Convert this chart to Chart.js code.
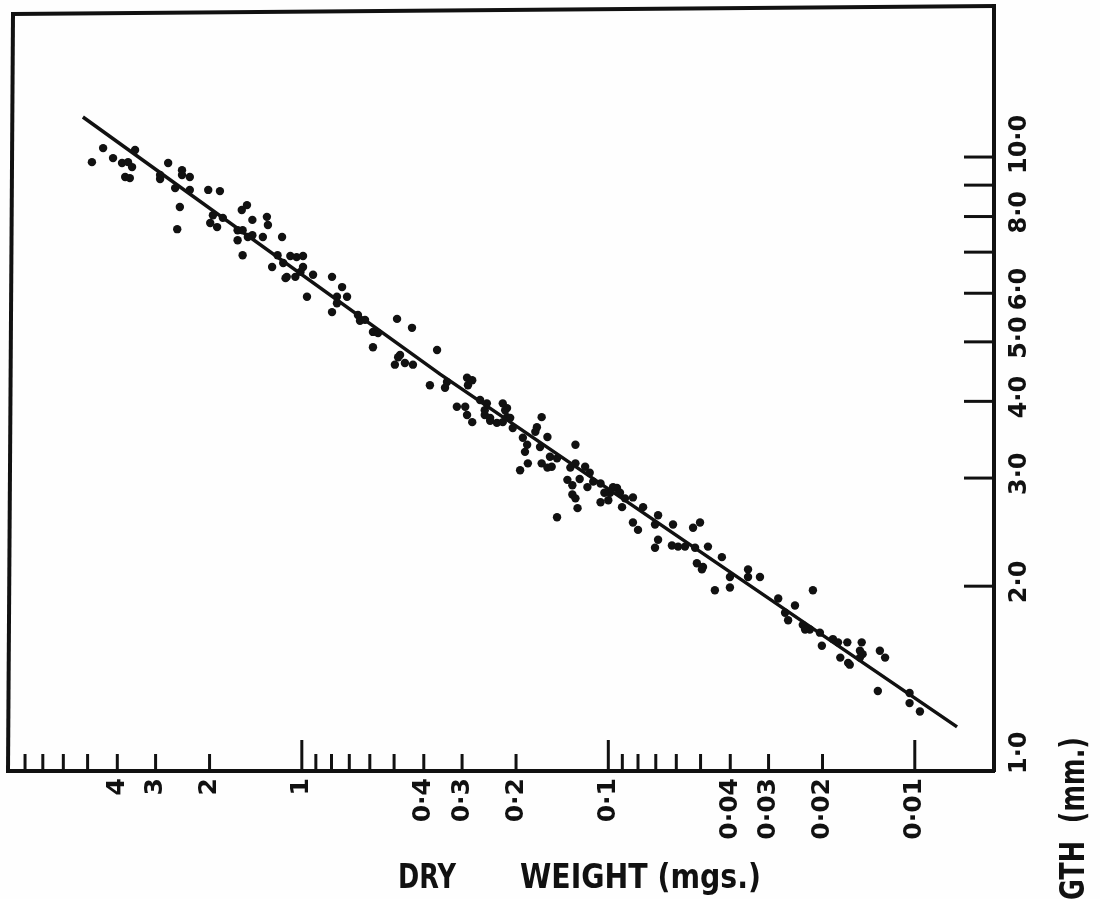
<!DOCTYPE html>
<html>
<head>
<meta charset="utf-8">
<title>Length against dry weight</title>
<script src="https://cdn.jsdelivr.net/npm/chart.js@4.4.1/dist/chart.umd.min.js"></script>
<style>
  html, body { margin: 0; padding: 0; background: #fff; }
  canvas { display: block; }
</style>
</head>
<body>
<canvas id="lengthChart" width="1100" height="899"></canvas>
<script>
// dry weight (mgs.) of each specimen
const weights = [
    4.84, 4.45, 4.13, 3.86, 3.69, 3.58, 3.77, 3.64, 3.50, 2.90,
    2.90, 2.73, 2.59, 2.46, 2.46, 2.32, 2.32, 2.50, 2.55, 2.02,
    1.85, 1.99, 1.89, 1.95, 1.81, 1.57, 1.51, 1.45, 1.30, 1.29,
    1.62, 1.56, 1.62, 1.50, 1.34, 1.16, 1.56, 1.20, 1.09, 1.04,
    0.991, 1.25, 1.12, 0.991, 0.919, 0.797, 0.739, 0.962, 0.768, 0.712,
    1.45, 1.15, 1.13, 1.05, 1.01, 0.768, 0.797, 0.656, 0.646, 0.622,
    0.489, 0.437, 0.586, 0.564, 0.586, 0.478, 0.497, 0.461, 0.434, 0.362,
    0.485, 0.382, 0.336, 0.341, 0.289, 0.287, 0.312, 0.293, 0.289, 0.278,
    0.262, 0.249, 0.253, 0.243, 0.231, 0.221, 0.214, 0.214, 0.205, 0.221,
    0.278, 0.253, 0.243, 0.217, 0.209, 0.165, 0.171, 0.173, 0.158, 0.190,
    0.184, 0.187, 0.167, 0.128, 0.183, 0.194, 0.165, 0.155, 0.147, 0.158,
    0.153, 0.128, 0.133, 0.119, 0.115, 0.136, 0.131, 0.124, 0.117, 0.106,
    0.131, 0.128, 0.126, 0.106, 0.0987, 0.0937, 0.0916, 0.0882, 0.0831, 0.0902,
    0.0770, 0.0688, 0.147, 0.112, 0.0965, 0.103, 0.100, 0.0831, 0.0800, 0.0704,
    0.0615, 0.0529, 0.0502, 0.0688, 0.0704, 0.0620, 0.0592, 0.0562, 0.0521, 0.0473,
    0.0426, 0.0514, 0.0491, 0.0495, 0.0401, 0.0350, 0.0350, 0.0320, 0.0449, 0.0401,
    0.0279, 0.0246, 0.0215, 0.0265, 0.0259, 0.0232, 0.0220, 0.0228, 0.0204, 0.0201,
    0.0185, 0.0178, 0.0166, 0.0149, 0.0151, 0.0175, 0.0165, 0.0151, 0.0148, 0.0130,
    0.0125, 0.0132, 0.0104, 0.0104, 0.00962, 0.0163
];

// length (mm.) of each specimen, same order
const lengths = [
    9.81, 10.34, 9.96, 9.78, 9.81, 9.63, 9.28, 9.24, 10.27, 9.35,
    9.21, 9.78, 8.90, 9.52, 9.35, 9.28, 8.84, 8.29, 7.63, 8.84,
    8.80, 7.81, 7.69, 8.04, 7.96, 8.20, 8.35, 7.90, 7.99, 7.75,
    7.60, 7.60, 7.32, 7.41, 7.41, 7.41, 6.92, 6.92, 6.90, 6.87,
    6.90, 6.62, 6.38, 6.62, 6.43, 6.38, 6.14, 5.92, 5.92, 5.92,
    7.46, 6.72, 6.35, 6.38, 6.50, 5.78, 5.59, 5.53, 5.41, 5.43,
    5.45, 5.27, 5.19, 5.17, 4.90, 4.76, 4.59, 4.62, 4.59, 4.85,
    4.72, 4.25, 4.30, 4.21, 4.37, 4.25, 3.92, 3.92, 3.80, 3.70,
    4.02, 3.97, 3.80, 3.72, 3.69, 3.97, 3.90, 3.77, 3.62, 3.70,
    4.33, 3.87, 3.76, 3.87, 3.76, 3.77, 3.63, 3.57, 3.50, 3.49,
    3.40, 3.31, 3.37, 3.40, 3.17, 3.09, 3.17, 3.25, 3.23, 3.12,
    3.13, 3.17, 3.12, 3.13, 3.06, 2.98, 2.92, 2.99, 2.90, 2.94,
    2.82, 2.78, 2.68, 2.74, 2.84, 2.89, 2.84, 2.78, 2.79, 2.69,
    2.69, 2.61, 2.59, 2.96, 2.90, 2.84, 2.76, 2.54, 2.47, 2.52,
    2.52, 2.49, 2.54, 2.38, 2.31, 2.33, 2.32, 2.32, 2.31, 2.32,
    2.23, 2.18, 2.15, 2.13, 2.07, 2.13, 2.07, 2.07, 1.97, 1.99,
    1.91, 1.86, 1.97, 1.81, 1.76, 1.73, 1.70, 1.70, 1.68, 1.60,
    1.64, 1.62, 1.62, 1.62, 1.57, 1.53, 1.50, 1.53, 1.55, 1.57,
    1.53, 1.35, 1.34, 1.29, 1.25, 1.49
];

// the fitted line as drawn
const lineWeights = [5.18, 0.354, 0.00728];
const lineLengths = [11.62, 4.43, 1.18];

// axis ranges
const weightMin = 0.005515, weightMax = 8.89;
const lengthMin = 1, lengthMax = 17.62;

// dry weight ticks
const xTicks = [4, 3, 2, 1, 0.4, 0.3, 0.2, 0.1, 0.04, 0.03, 0.02, 0.01];
const xTickLabels = ['4', '3', '2', '1', '0·4', '0·3', '0·2', '0·1', '0·04', '0·03', '0·02', '0·01'];
const xMinorTicks = [8, 7, 6, 5, 0.9, 0.8, 0.7, 0.6, 0.5, 0.09, 0.08, 0.07, 0.06, 0.05];
const xDecadeTicks = [1, 0.1, 0.01];

// length ticks
const yTicks = [2, 3, 4, 5, 6, 7, 8, 9, 10];
const yLabelValues = [1, 2, 3, 4, 5, 6, 8, 10];
const yTickLabels = ['1·0', '2·0', '3·0', '4·0', '5·0', '6·0', '8·0', '10·0'];

const ink = '#111';

const points = weights.map(function (w, i) { return { x: w, y: lengths[i] }; });
const fitLine = lineWeights.map(function (w, i) { return { x: w, y: lineLengths[i] }; });

function stroke(ctx, x1, y1, x2, y2) {
    ctx.beginPath();
    ctx.moveTo(x1, y1);
    ctx.lineTo(x2, y2);
    ctx.stroke();
}

// squeeze a text to a given width (the lettering is condensed)
function fitText(ctx, text, width) {
    const w = ctx.measureText(text).width;
    ctx.scale(width / w, 1);
    ctx.fillText(text, 0, 0);
}

// ticks point inside, labels are turned like the rest of the page
const paperPlugin = {
    id: 'paper',
    beforeDraw: function (chart) {
        const ctx = chart.ctx;
        ctx.save();
        ctx.fillStyle = '#fefefe';
        ctx.fillRect(0, 0, chart.width, chart.height);
        ctx.restore();
    },
    afterDraw: function (chart) {
        const ctx = chart.ctx;
        const a = chart.chartArea;
        const xs = chart.scales.x;
        const ys = chart.scales.y;

        ctx.save();
        ctx.strokeStyle = ink;
        ctx.fillStyle = ink;

        // frame, top and left sides
        ctx.lineWidth = 4;
        ctx.lineCap = 'square';
        stroke(ctx, a.left + 2, a.top + 8, a.right, a.top);
        stroke(ctx, a.left + 2, a.top + 8, a.left - 3, a.bottom);

        // weight ticks
        ctx.lineWidth = 3;
        ctx.lineCap = 'butt';
        xTicks.concat(xMinorTicks).forEach(function (v) {
            const px = xs.getPixelForValue(v);
            const len = xDecadeTicks.indexOf(v) >= 0 ? 31 : 17;
            stroke(ctx, px, a.bottom, px, a.bottom - len);
        });

        // length ticks
        yTicks.forEach(function (v) {
            const py = ys.getPixelForValue(v);
            stroke(ctx, a.right, py, a.right - 30, py);
        });

        // weight labels
        ctx.font = 'bold 25px "DejaVu Sans", sans-serif';
        ctx.textAlign = 'right';
        ctx.textBaseline = 'middle';
        xTicks.forEach(function (v, i) {
            const px = xs.getPixelForValue(v);
            ctx.save();
            ctx.translate(px, a.bottom + 7);
            ctx.rotate(-Math.PI / 2);
            ctx.fillText(xTickLabels[i], 0, 0);
            ctx.restore();
        });

        // length labels
        ctx.font = 'bold 24px "DejaVu Sans", sans-serif';
        ctx.textAlign = 'left';
        yLabelValues.forEach(function (v, i) {
            const py = ys.getPixelForValue(v);
            ctx.save();
            ctx.translate(a.right + 26, Math.min(py + 17, a.bottom + 3));
            ctx.rotate(-Math.PI / 2);
            ctx.fillText(yTickLabels[i], 0, 0);
            ctx.restore();
        });

        // axis titles
        ctx.font = 'bold 34px "DejaVu Sans", sans-serif';
        ctx.textBaseline = 'alphabetic';
        ctx.textAlign = 'left';
        ctx.save();
        ctx.translate(398, 888);
        fitText(ctx, 'DRY', 58);
        ctx.restore();
        ctx.save();
        ctx.translate(520, 888);
        fitText(ctx, 'WEIGHT (mgs.)', 241);
        ctx.restore();

        ctx.save();
        ctx.textAlign = 'right';
        ctx.textBaseline = 'middle';
        ctx.translate(1075, 737);
        ctx.rotate(-Math.PI / 2);
        ctx.scale(0.75, 1);
        ctx.fillText('LENGTH  (mm.)', 0, 0);
        ctx.restore();

        ctx.restore();
    }
};

new Chart(document.getElementById('lengthChart'), {
    type: 'scatter',
    data: {
        datasets: [{
            data: fitLine,
            showLine: true,
            borderColor: ink,
            borderWidth: 3.5,
            pointRadius: 0,
            pointHoverRadius: 0,
            fill: false,
            tension: 0
        }, {
            data: points,
            backgroundColor: ink,
            borderWidth: 0,
            pointRadius: 4.2,
            pointHoverRadius: 4.2
        }]
    },
    options: {
        responsive: false,
        animation: false,
        devicePixelRatio: 1,
        events: [],
        layout: { padding: { left: 11, top: 6, right: 0, bottom: 0 } },
        plugins: {
            legend: { display: false },
            tooltip: { enabled: false }
        },
        scales: {
            x: {
                type: 'logarithmic',
                position: 'bottom',
                reverse: true,
                min: weightMin,
                max: weightMax,
                grid: { display: false, drawTicks: false },
                ticks: { display: false },
                border: { display: true, color: ink, width: 4 },
                afterFit: function (scale) { scale.height = 128; }
            },
            y: {
                type: 'logarithmic',
                position: 'right',
                min: lengthMin,
                max: lengthMax,
                grid: { display: false, drawTicks: false },
                ticks: { display: false },
                border: { display: true, color: ink, width: 4 },
                afterFit: function (scale) { scale.width = 106; }
            }
        }
    },
    plugins: [paperPlugin]
});
</script>
</body>
</html>
